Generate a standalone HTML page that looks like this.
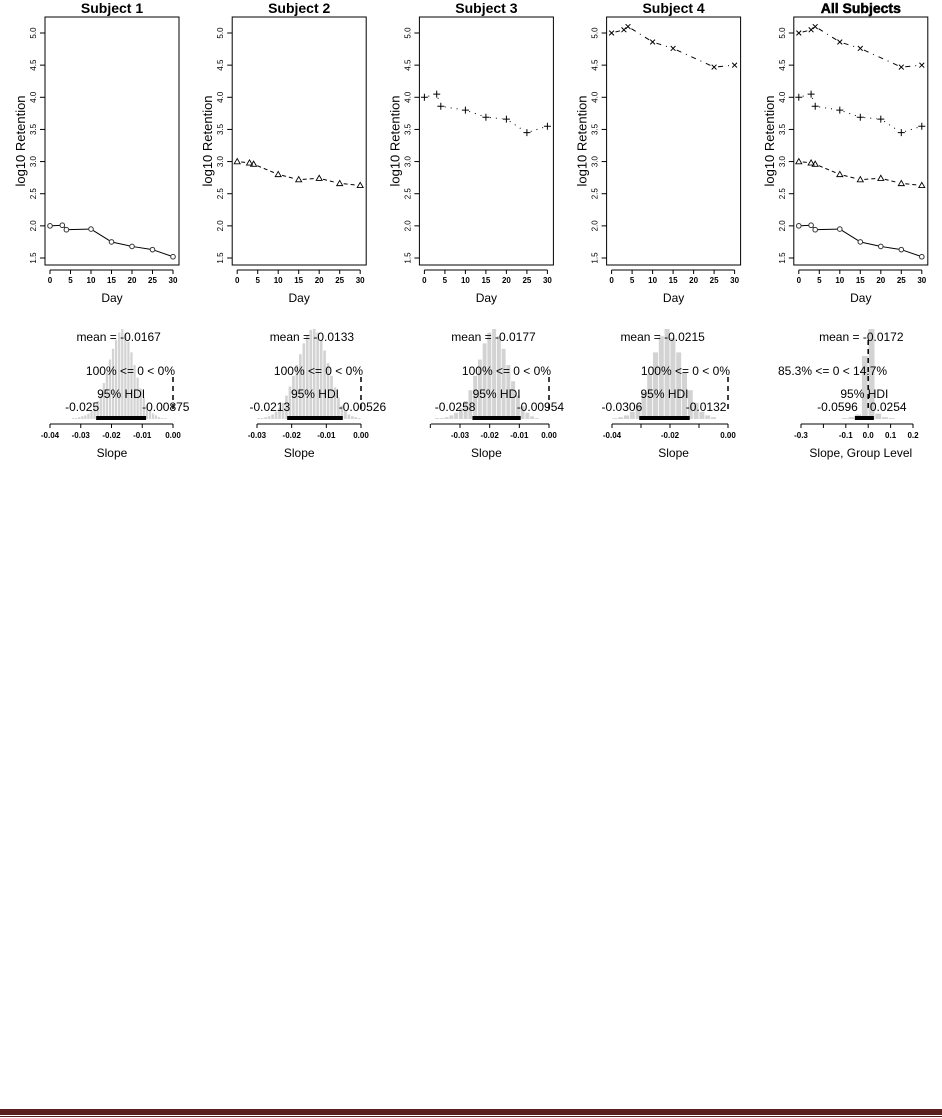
<!DOCTYPE html>
<html><head><meta charset="utf-8"><style>
html,body{margin:0;padding:0;background:#fff}
svg{display:block;font-family:"Liberation Sans",Arial,sans-serif}
</style></head><body>
<svg id="fig" width="942" height="1118" viewBox="0 0 942 1118" xmlns="http://www.w3.org/2000/svg">
<rect x="0" y="1109" width="942" height="6" fill="#5a1f1f"/>
<rect x="0" y="1116" width="942" height="1" fill="#5a1f1f"/>
</svg>
<script>
// ---- data ----
const days = [0,3,4,10,15,20,25,30];
const subj1 = [2.00,2.01,1.94,1.95,1.75,1.68,1.63,1.52];
const subj2 = [3.00,2.98,2.96,2.80,2.72,2.74,2.66,2.63];
const subj3 = [4.00,4.05,3.86,3.80,3.69,3.66,3.45,3.55];
const days4 = [0,3,4,10,15,25,30];
const subj4 = [5.00,5.05,5.10,4.86,4.76,4.47,4.50];
const panelTitles = ["Subject 1","Subject 2","Subject 3","Subject 4","All Subjects"];
const yTicks = [1.5,2.0,2.5,3.0,3.5,4.0,4.5,5.0];
const xTicks = [0,5,10,15,20,25,30];

const h1Counts = [1,1,2,3,4,6,9,14,20,28,40,52,66,78,88,96,100,95,86,74,60,46,34,24,16,10,6,4,2,1,1];
const h2Counts = [1,1,2,3,5,8,12,18,26,36,48,60,72,84,93,99,100,96,88,76,62,48,35,24,15,9,5,3,2,1];
const h3Counts = [1,1,2,4,7,12,20,32,48,66,84,96,100,92,78,60,42,26,14,7,3,1];
const h4Counts = [1,2,4,8,16,30,50,74,92,100,90,74,52,32,18,8,4,2];
const h5Counts = [1,2,5,70,100,6,2,1];
const h1Start=-0.033, h1Width=0.001;
const h2Start=-0.030, h2Width=0.001;
const h3Start=-0.0385, h3Width=0.0016;
const h4Start=-0.040, h4Width=0.002;
const h5Start=-0.12, h5Width=0.03;
const means = [-0.0167,-0.0133,-0.0177,-0.0215,-0.0172];
const hdiLow = [-0.025,-0.0213,-0.0258,-0.0306,-0.0596];
const hdiHigh = [-0.00875,-0.00526,-0.00954,-0.0132,0.0254];
const hdiLowLbl = ["-0.025","-0.0213","-0.0258","-0.0306","-0.0596"];
const hdiHighLbl = ["-0.00875","-0.00526","-0.00954","-0.0132","0.0254"];
const meanLbl = ["-0.0167","-0.0133","-0.0177","-0.0215","-0.0172"];
const pctLbl = ["100% <= 0 < 0%","100% <= 0 < 0%","100% <= 0 < 0%","100% <= 0 < 0%","85.3% <= 0 < 14.7%"];
const hTicks1 = [-0.04,-0.03,-0.02,-0.01,0.00];
const hTicks2 = [-0.03,-0.02,-0.01,0.00];
const hTicks3 = [-0.04,-0.03,-0.02,-0.01,0.00];
const hTicks4 = [-0.04,-0.03,-0.02,-0.01,0.00];
const hTicks5 = [-0.3,-0.2,-0.1,0.0,0.1,0.2];

const svg = document.getElementById('fig');
const NS = "http://www.w3.org/2000/svg";
function mk(tag, attrs, parent){const e=document.createElementNS(NS,tag);for(const k in attrs)e.setAttribute(k,attrs[k]);(parent||svg).appendChild(e);return e;}
function txt(s, attrs, parent){const e=mk('text',attrs,parent);e.textContent=s;return e;}

const OFF = 187.2;
function xDay(i,d){return 50+i*OFF+d*(123/30);}
function yRet(v){return 258-(v-1.5)*(225/3.5);}

const series = [
 {x:days,y:subj1,dash:"",mark:"circle"},
 {x:days,y:subj2,dash:"4,3",mark:"tri"},
 {x:days,y:subj3,dash:"1,5",mark:"plus"},
 {x:days4,y:subj4,dash:"5,5,1,5",mark:"cross"}
];

function drawMarker(g,type,cx,cy){
  let m;
  if(type==="circle") m=mk('circle',{cx:cx,cy:cy,r:2.3,fill:"none",stroke:"#333","stroke-width":1},g);
  else if(type==="tri") m=mk('polygon',{points:`${cx},${cy-3} ${cx-3},${cy+2.2} ${cx+3},${cy+2.2}`,fill:"none",stroke:"#000","stroke-width":0.9},g);
  else if(type==="plus") m=mk('path',{d:`M${cx-3.5},${cy}H${cx+3.5}M${cx},${cy-3.5}V${cy+3.5}`,stroke:"#000","stroke-width":1},g);
  else m=mk('path',{d:`M${cx-2.4},${cy-2.4}L${cx+2.4},${cy+2.4}M${cx-2.4},${cy+2.4}L${cx+2.4},${cy-2.4}`,stroke:"#000","stroke-width":1},g);
  
  
}
function drawSeries(g,i,s){
  const gap=s.dash===""?2.5:4;
  for(let k=0;k<s.x.length-1;k++){
    const x1=xDay(i,s.x[k]),y1=yRet(s.y[k]),x2=xDay(i,s.x[k+1]),y2=yRet(s.y[k+1]);
    const dx=x2-x1,dy=y2-y1,L=Math.hypot(dx,dy);
    if(L<=2*gap) continue;
    const ux=dx/L,uy=dy/L;
    const ln=mk('line',{x1:x1+ux*gap,y1:y1+uy*gap,x2:x2-ux*gap,y2:y2-uy*gap,stroke:"#000","stroke-width":1,"stroke-dasharray":s.dash},g);
    
    
  }
  for(let k=0;k<s.x.length;k++) drawMarker(g,s.mark,xDay(i,s.x[k]),yRet(s.y[k]));
}

for(let i=0;i<5;i++){
  const o=i*OFF;
  const g=mk('g',{});
  
  
  const t=txt(panelTitles[i],{x:112+o,y:13,"text-anchor":"middle","font-size":14,"font-weight":"bold"},g);
  if(i===4){t.setAttribute('stroke','#000');t.setAttribute('stroke-width','0.5');}
  
  
  const box=mk('rect',{x:45+o,y:17,width:134,height:248,fill:"none",stroke:"#000","stroke-width":1},g);
  
  
  yTicks.forEach(v=>{
    const y=yRet(v);
    mk('line',{x1:40+o,y1:y,x2:45+o,y2:y,stroke:"#000"},g);
    const l=txt(v.toFixed(1),{x:0,y:0,transform:`translate(${36+o},${y}) rotate(-90)`,"text-anchor":"middle","font-size":8},g);
    
    
  });
  const yt=txt("log10 Retention",{x:0,y:0,transform:`translate(${25+o},141) rotate(-90)`,"text-anchor":"middle","font-size":13},g);
  
  
  mk('line',{x1:xDay(i,0),y1:270,x2:xDay(i,30),y2:270,stroke:"#000"},g);
  xTicks.forEach(d=>{
    const x=xDay(i,d);
    mk('line',{x1:x,y1:270,x2:x,y2:274,stroke:"#000"},g);
    const l=txt(String(d),{x:x,y:283,"text-anchor":"middle","font-size":8,"font-weight":"bold"},g);
    
    
  });
  const xt=txt("Day",{x:112+o,y:302,"text-anchor":"middle","font-size":12},g);
  
  
  if(i<4) drawSeries(g,i,series[i]);
  else series.forEach(s=>drawSeries(g,i,s));
}

// ---- histograms ----
const hists = [
 {counts:h1Counts,start:h1Start,w:h1Width,ticks:hTicks1,tl:[-0.04,50],tr:[0,173],axL:50},
 {counts:h2Counts,start:h2Start,w:h2Width,ticks:hTicks2,tl:[-0.03,257],tr:[0,361],axL:257},
 {counts:h3Counts,start:h3Start,w:h3Width,ticks:hTicks3,tl:[-0.03,460],tr:[0,549],axL:431},
 {counts:h4Counts,start:h4Start,w:h4Width,ticks:hTicks4,tl:[-0.04,612],tr:[0,728],axL:612},
 {counts:h5Counts,start:h5Start,w:h5Width,ticks:hTicks5,tl:[-0.3,801],tr:[0.2,913],axL:801}
];
const tickLabelShow = [
 [true,true,true,true,true],[true,true,true,true],[false,true,true,true,true],
 [true,false,true,false,true],[true,false,true,true,true,true]
];
const baseY=419, maxH=90;
hists.forEach((h,i)=>{
  const g=mk('g',{});
  
  
  const sx=v=>h.tl[1]+(v-h.tl[0])*(h.tr[1]-h.tl[1])/(h.tr[0]-h.tl[0]);
  const mx=Math.max(...h.counts);
  h.counts.forEach((c,k)=>{
    const x0=sx(h.start+k*h.w),x1=sx(h.start+(k+1)*h.w);
    const bh=c/mx*maxH;
    const b=mk('rect',{x:x0+0.4,y:baseY-bh,width:Math.max(0.5,x1-x0-0.8),height:bh,fill:"#d3d3d3"},g);
    
    
  });
  const z=sx(0);
  const cl=mk('line',{x1:z,y1:i===4?340:377,x2:z,y2:410,stroke:"#000","stroke-width":1.5,"stroke-dasharray":"5,4"},g);
  
  
  const hb=mk('line',{x1:sx(hdiLow[i]),y1:418,x2:sx(hdiHigh[i]),y2:418,stroke:"#000","stroke-width":4},g);
  
  
  const lastT=h.ticks[h.ticks.length-1];
  mk('line',{x1:h.axL,y1:424,x2:sx(lastT),y2:424,stroke:"#000"},g);
  h.ticks.forEach((v,k)=>{
    const x=sx(v);
    mk('line',{x1:x,y1:424,x2:x,y2:428,stroke:"#000"},g);
    if(tickLabelShow[i][k]){
      const l=txt(v.toFixed(i===4?1:2),{x:x,y:438,"text-anchor":"middle","font-size":8,"font-weight":"bold"},g);
      
      
    }
  });
  const mt=txt("mean = "+meanLbl[i],{x:sx(means[i])-3,y:341,"text-anchor":"middle","font-size":12},g);
  
  
  const pt=txt(pctLbl[i],{x:z+2,y:375,"text-anchor":"end","font-size":12},g);
  if(i===4){pt.setAttribute('text-anchor','start');pt.setAttribute('x',778);}
  
  
  const ht=txt("95% HDI",{x:(sx(hdiLow[i])+sx(hdiHigh[i]))/2,y:398,"text-anchor":"middle","font-size":12},g);
  
  
  const lo=txt(hdiLowLbl[i],{x:sx(hdiLow[i])+3,y:411,"text-anchor":"end","font-size":12},g);
  
  
  const hi=txt(hdiHighLbl[i],{x:sx(hdiHigh[i])-4,y:411,"text-anchor":"start","font-size":12},g);
  
  
  const st=txt(i===4?"Slope, Group Level":"Slope",{x:112+i*OFF,y:457,"text-anchor":"middle","font-size":12},g);
  
  
});
</script>
</body></html>
